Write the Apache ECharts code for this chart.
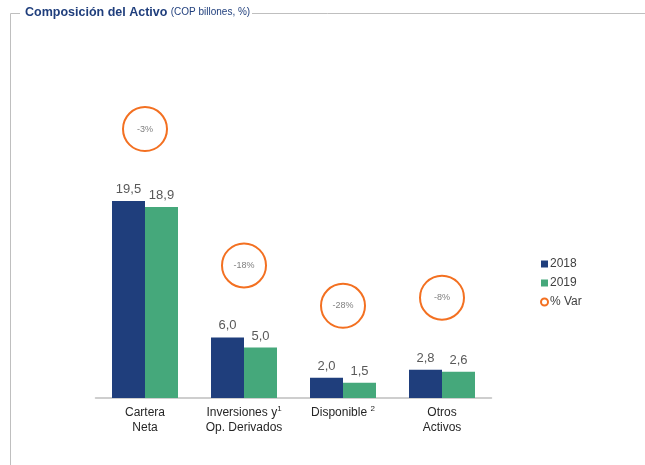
<!DOCTYPE html>
<html><head><meta charset="utf-8">
<script src="https://cdn.jsdelivr.net/npm/echarts@6/dist/echarts.min.js"></script>
<style>html,body{margin:0;padding:0;background:#fff}#c{width:645px;height:465px}</style>
</head><body><div id="c"></div>
<script>
const categories = ['Cartera\nNeta', 'Inversiones y{sup|1}\nOp. Derivados', 'Disponible {sup|2}', 'Otros\nActivos'];
const values2018 = [19.5, 6.0, 2.0, 2.8];
const values2019 = [18.9, 5.0, 1.5, 2.6];
const pctVar = ['-3%', '-18%', '-28%', '-8%'];

const C18 = '#1F3E7C', C19 = '#45A87B', ORG = '#F37021';
const fmt = v => v.toFixed(1).replace('.', ',');
const chart = echarts.init(document.getElementById('c'));
const lbl = { show: true, position: 'top', distance: 5, fontSize: 13, color: '#595959', fontFamily: 'Liberation Sans, Arial', formatter: p => fmt(p.value) };
chart.setOption({
  animation: false,
  textStyle: { fontFamily: 'Liberation Sans, Arial' },
  grid: { left: 95.5, right: 153.5, top: 95, bottom: 67 },
  xAxis: {
    type: 'category', data: categories,
    axisLine: { lineStyle: { color: '#BFBFBF', width: 1.5 } },
    axisTick: { show: false },
    axisLabel: {
      interval: 0, color: '#262626', fontSize: 12, lineHeight: 15, margin: 7,
      rich: { sup: { fontSize: 8, verticalAlign: 'top', color: '#262626', padding: [0, 0, 6, 0] } }
    }
  },
  yAxis: { type: 'value', min: 0, max: 30, show: false, splitLine: { show: false } },
  legend: {
    orient: 'vertical', left: 535, top: 253, itemGap: 7, itemWidth: 7, itemHeight: 7,
    textStyle: { fontSize: 12, color: '#404040', padding: [0, 0, 0, -3] },
    data: [
      { name: '2018', icon: 'rect' },
      { name: '2019', icon: 'rect' },
      { name: '% Var', icon: 'circle', itemStyle: { color: '#fff', borderColor: ORG, borderWidth: 2 } }
    ]
  },
  series: [
    { name: '2018', type: 'bar', data: values2018, barWidth: 33, barGap: '0%', itemStyle: { color: C18 }, label: lbl },
    { name: '2019', type: 'bar', data: values2019, barWidth: 33, itemStyle: { color: C19 }, label: lbl },
    {
      name: '% Var', type: 'scatter', symbol: 'circle', symbolSize: 44, symbolOffset: [0, -72],
      data: values2018.map((v, i) => ({ value: [i, Math.max(v, values2019[i])], txt: pctVar[i] })),
      itemStyle: { color: '#fff', borderColor: ORG, borderWidth: 2, opacity: 1 },
      label: { show: true, position: 'inside', fontSize: 9, color: '#7F7F7F', formatter: p => p.data.txt }
    }
  ],
  graphic: [
    { type: 'line', shape: { x1: 10.5, y1: 13.5, x2: 10.5, y2: 465 }, style: { stroke: '#BFBFBF', lineWidth: 1 } },
    { type: 'line', shape: { x1: 10.5, y1: 13.5, x2: 645, y2: 13.5 }, style: { stroke: '#BFBFBF', lineWidth: 1 } },
    { type: 'rect', shape: { x: 20, y: 3, width: 232, height: 20 }, style: { fill: '#fff' } },
    { type: 'text', left: 25, top: 6, style: {
        text: '{b|Composición del Activo} {n|(COP billones, %)}',
        rich: { b: { fontSize: 12.5, fontWeight: 'bold', fill: '#1F3E7C', fontFamily: 'Liberation Sans, Arial' },
                n: { fontSize: 10, fill: '#1F3E7C', fontFamily: 'Liberation Sans, Arial' } } } }
  ]
});
</script></body></html>
